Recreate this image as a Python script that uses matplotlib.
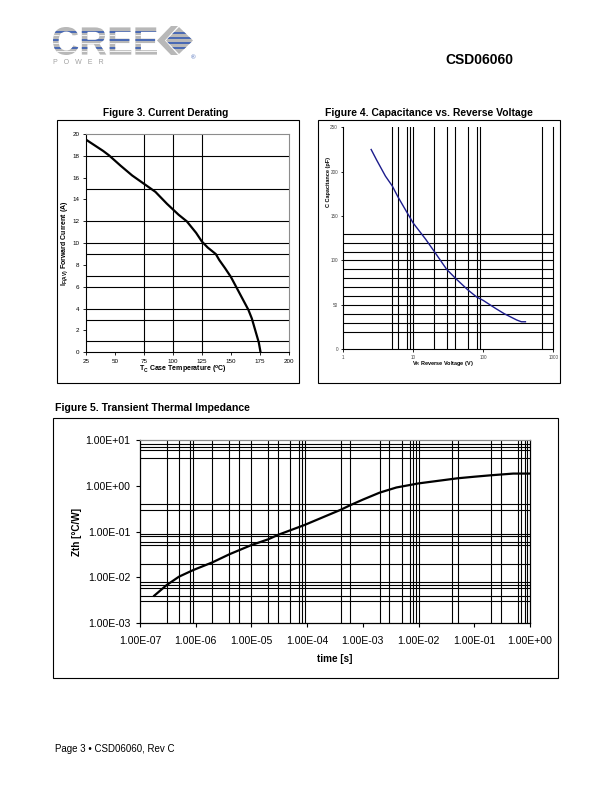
import numpy as np
import matplotlib
matplotlib.use("Agg")
import matplotlib.pyplot as plt
from matplotlib.patches import Rectangle, PathPatch, Polygon
from matplotlib.textpath import TextPath
from matplotlib.font_manager import FontProperties
from matplotlib.transforms import Affine2D
from matplotlib.ticker import FixedLocator, NullLocator, FuncFormatter

plt.rcParams['font.family'] = ['Liberation Sans', 'DejaVu Sans']

# Figure 3: current derating
temp_c = [25, 30, 35, 40, 45, 55, 65, 75, 85, 95, 105, 112, 120, 125, 130, 137, 140, 145, 150,
          155, 160, 165, 168, 171, 174, 175.5]
current_a = [19.5, 19.15, 18.8, 18.45, 18.05, 17.1, 16.2, 15.45, 14.7, 13.6, 12.6, 12.0, 10.95, 10.15,
             9.6, 9.0, 8.45, 7.7, 6.9, 5.9, 4.9, 3.9, 3.1, 2.0, 0.9, 0.0]
fig3_xticks = [25, 50, 75, 100, 125, 150, 175, 200]
fig3_yticks = [0, 2, 4, 6, 8, 10, 12, 14, 16, 18, 20]
fig3_vgrid = [75, 100, 125]
fig3_hgrid = [1, 3, 4, 6, 7, 9, 10, 12, 15, 18]

# Figure 4: capacitance vs reverse voltage
volt_v = [2.5, 3, 4, 5, 6, 8, 10, 15, 20, 30, 40, 60, 80, 100, 150, 200, 300, 350, 400]
cap_pf = [225, 213, 195, 184, 172, 155, 142, 124, 110, 90, 80, 67, 59, 55, 46, 40, 33, 31, 31]
fig4_xticks = [1, 10, 100, 1000]
fig4_yticks = [0, 50, 100, 150, 200, 250]
fig4_vgrid = [5, 6, 8, 9, 10, 20, 30, 40, 60, 80, 90, 700]
fig4_hgrid = [20, 30, 40, 50, 60, 70, 80, 90, 100, 110, 120, 130]

# Figure 5: transient thermal impedance
time_s = [1.8e-7, 3e-7, 5e-7, 9e-7, 2e-6, 4e-6, 1e-5, 2e-5, 3e-5, 9e-5, 4e-4, 6e-4, 1e-3, 2e-3, 4e-3, 1e-2, 5e-2, 1e-1, 2e-1, 5e-1, 1.0]
zth = [0.0040, 0.0068, 0.0104, 0.0145, 0.0214, 0.032, 0.051, 0.068, 0.085, 0.14, 0.30, 0.38, 0.50, 0.71, 0.92, 1.13, 1.46, 1.58, 1.70, 1.85, 1.85]
fig5_xticks = [1e-7, 1e-6, 1e-5, 1e-4, 1e-3, 1e-2, 1e-1, 1e0]
fig5_yticks = [1e-3, 1e-2, 1e-1, 1e0, 1e1]
fig5_vgrid = [3e-7, 5e-7, 8e-7, 9e-7, 2e-6, 4e-6, 6e-6, 1e-5, 2e-5, 3e-5, 5e-5, 7e-5, 8e-5, 9e-5,
              4e-4, 6e-4, 2e-3, 3e-3, 5e-3, 7e-3, 8e-3, 9e-3, 1e-2, 4e-2, 5e-2, 0.2, 0.3, 0.6, 0.7, 0.8, 0.9]
fig5_hgrid = [0.003, 0.004, 0.006, 0.007, 0.008, 0.02, 0.05, 0.06, 0.08, 0.09, 0.3, 0.4, 4, 6, 7, 8]

W, H = 612, 792
fig = plt.figure(figsize=(6.12, 7.92), dpi=100)


def px_axes(x0, y0, x1, y1):
    # axes box given in page pixels (top-left origin)
    return fig.add_axes([x0 / W, 1 - y1 / H, (x1 - x0) / W, (y1 - y0) / H])


page = fig.add_axes([0, 0, 1, 1], zorder=-1)
page.set_xlim(0, W)
page.set_ylim(H, 0)
page.axis('off')

# ---- header: logo ----
prop = FontProperties(family='Liberation Sans', weight='bold')
tp = TextPath((0, 0), "CREE", size=1, prop=prop)
ext = tp.get_extents()
sx = 104 / ext.width
sy = 28 / ext.height
tr = Affine2D().translate(-ext.x0, -ext.y0).scale(sx, -sy).translate(53, 55) + page.transData
logo = PathPatch(tp, transform=tr, fc='#b8b8b8', ec='none')
page.add_patch(logo)
for yy, col, lw in [(32, '#3f62b4', 1.3), (34.5, 'white', 0.6), (40, '#3f62b4', 1.3),
                    (42.5, 'white', 0.6), (48, '#3f62b4', 1.3), (50.5, 'white', 0.6)]:
    ln, = page.plot([50, 160], [yy, yy], color=col, lw=lw)
    ln.set_clip_path(logo)

chev = Polygon([(171, 26), (157, 40.5), (171, 55), (178, 55), (165, 40.5), (178, 26)],
               closed=True, fc='#b8b8b8', ec='none')
page.add_patch(chev)
dia = Polygon([(179, 27), (193, 40.5), (179, 54), (166, 40.5)], closed=True, fc='#b8b8b8', ec='none')
page.add_patch(dia)
for yy in [33, 38, 43, 48]:
    ln, = page.plot([160, 200], [yy, yy], color='#3f62b4', lw=1.3)
    ln.set_clip_path(dia)
page.text(193, 57.5, "®", fontsize=4.5, color='#3f62b4', ha='center', va='center')
page.text(53, 62.5, "P   O   W   E   R", fontsize=5, color='#a0a0a0', ha='left', va='center')

page.text(513, 59.5, "CSD06060", fontsize=10, fontweight='bold', ha='right', va='center')
page.text(55, 749.5, "Page 3 \u2022 CSD06060, Rev C", fontsize=7, ha='left', va='center')

# ---- frames and titles ----
page.add_patch(Rectangle((57.3, 120), 242, 263.3, fill=False, lw=0.8, ec='black'))
page.add_patch(Rectangle((317.7, 120), 242.3, 262.7, fill=False, lw=0.8, ec='black'))
page.add_patch(Rectangle((52.7, 418.3), 505.3, 260, fill=False, lw=0.8, ec='black'))
page.text(166, 112.5, "Figure 3. Current Derating", fontsize=7.3, fontweight='bold', ha='center', va='center')
page.text(429, 112.5, "Figure 4. Capacitance vs. Reverse Voltage", fontsize=7.5, fontweight='bold',
          ha='center', va='center')
page.text(55, 408.3, "Figure 5. Transient Thermal Impedance", fontsize=7.6, fontweight='bold',
          ha='left', va='center')

grid_kw = dict(color='black', lw=0.8, zorder=1)

# ---- Figure 3 ----
ax3 = px_axes(85.7, 134, 289, 352.3)
ax3.plot(temp_c, current_a, color='black', lw=1.6, zorder=3)
for v in fig3_vgrid:
    ax3.axvline(v, **grid_kw)
for h in fig3_hgrid:
    ax3.axhline(h, **grid_kw)
ax3.set_xlim(25, 200)
ax3.set_ylim(0, 20)
ax3.set_xticks(fig3_xticks)
ax3.set_yticks(fig3_yticks)
ax3.tick_params(labelsize=4.5, length=2, width=0.6, pad=2.5, direction='out')
for s in ['top', 'right']:
    ax3.spines[s].set_color('#8c8c8c')
for s in ['left', 'bottom']:
    ax3.spines[s].set_color('black')
for s in ax3.spines.values():
    s.set_linewidth(0.8)
ax3.set_xlabel(r"T$_{\mathregular{C}}$ Case Temperature ($^{\mathregular{o}}$C)", fontsize=5, fontweight='bold')
ax3.set_ylabel(r"I$_{\mathregular{F(AV)}}$ Forward Current (A)", fontsize=5, fontweight='bold')
ax3.xaxis.set_label_coords(0.48, -0.052)
ax3.yaxis.set_label_coords(-0.078, 0.5)

# ---- Figure 4 ----
ax4 = px_axes(343.3, 127.3, 553.3, 349.3)
ax4.set_xscale('log')
ax4.plot(volt_v, cap_pf, color='#1c1c8c', lw=1.0, zorder=3)
for v in fig4_vgrid:
    ax4.axvline(v, **grid_kw)
for h in fig4_hgrid:
    ax4.axhline(h, **grid_kw)
ax4.set_xlim(1, 1000)
ax4.set_ylim(0, 250)
ax4.xaxis.set_major_locator(FixedLocator(fig4_xticks))
ax4.xaxis.set_minor_locator(NullLocator())
ax4.xaxis.set_major_formatter(FuncFormatter(lambda v, p: f"{v:g}"))
ax4.set_yticks(fig4_yticks)
ax4.tick_params(labelsize=3.3, length=1.8, width=0.6, pad=2, direction='out', labelcolor='#444444')
ax4.spines['top'].set_visible(False)
ax4.spines['right'].set_color('black')
for s in ax4.spines.values():
    s.set_linewidth(0.8)
ax4.set_xlabel(r"V$_{\mathregular{R}}$ Reverse Voltage (V)", fontsize=4, fontweight='bold')
ax4.set_ylabel("C Capacitance (pF)", fontsize=4, fontweight='bold')
ax4.xaxis.set_label_coords(0.476, -0.045)
ax4.yaxis.set_label_coords(-0.06, 0.755)

# ---- Figure 5 ----
ax5 = px_axes(140, 440, 530, 623.3)
ax5.set_xscale('log')
ax5.set_yscale('log')
ax5.plot(time_s, zth, color='black', lw=1.6, zorder=3)
for v in fig5_vgrid:
    ax5.axvline(v, **grid_kw)
for h in fig5_hgrid:
    ax5.axhline(h, **grid_kw)
ax5.set_xlim(1e-7, 1e0)
ax5.set_ylim(1e-3, 1e1)
sci = FuncFormatter(lambda v, p: f"{v:.2E}")
ax5.xaxis.set_major_locator(FixedLocator(fig5_xticks))
ax5.yaxis.set_major_locator(FixedLocator(fig5_yticks))
ax5.xaxis.set_minor_locator(NullLocator())
ax5.yaxis.set_minor_locator(NullLocator())
ax5.xaxis.set_major_formatter(sci)
ax5.yaxis.set_major_formatter(sci)
ax5.tick_params(labelsize=7.6, length=3, width=0.8, direction='out')
ax5.tick_params(axis='x', pad=6)
ax5.tick_params(axis='y', pad=4)
ax5.spines['top'].set_color('#8c8c8c')
for s in ax5.spines.values():
    s.set_linewidth(0.9)
ax5.set_xlabel("time [s]", fontsize=7.2, fontweight='bold')
ax5.set_ylabel("Zth [\u00b0C/W]", fontsize=7.2, fontweight='bold')
ax5.xaxis.set_label_coords(0.5, -0.165)
ax5.yaxis.set_label_coords(-0.148, 0.5)

fig.savefig("out.png", dpi=100)
